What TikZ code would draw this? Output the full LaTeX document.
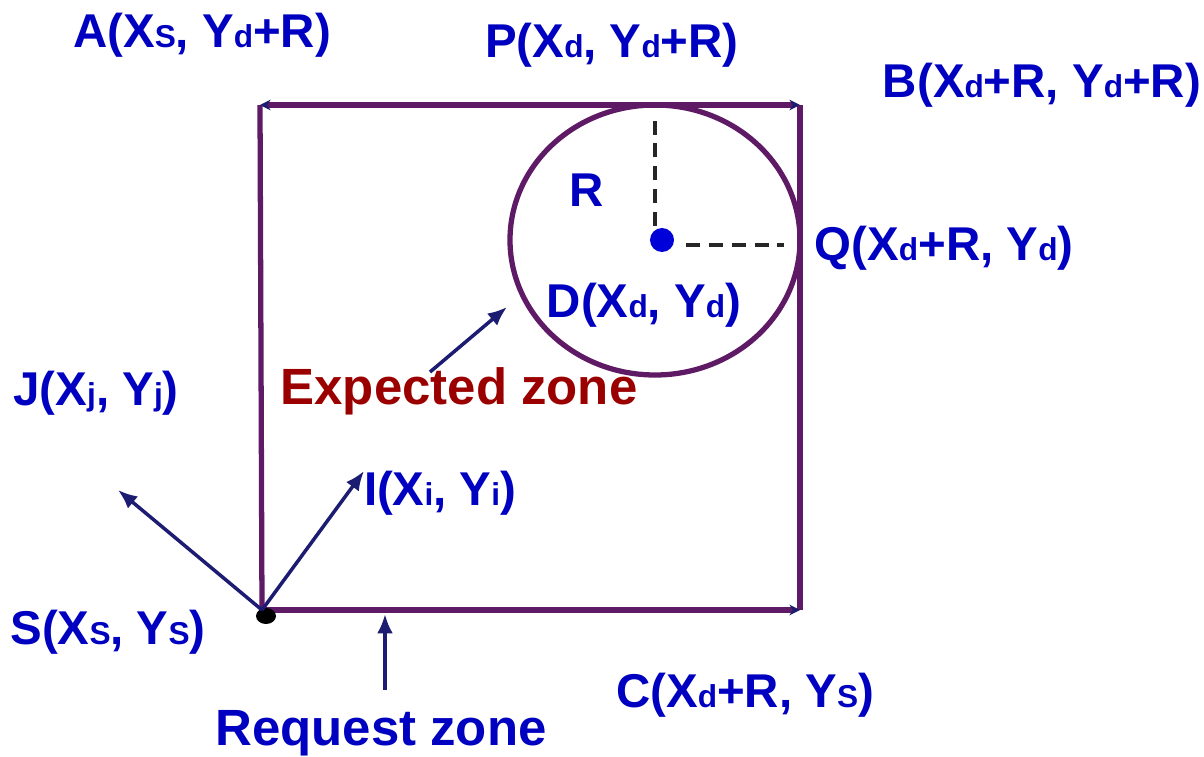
\documentclass[tikz,border=0pt]{standalone}
\usepackage{fontspec}
\setmainfont{Liberation Sans}
\usetikzlibrary{arrows.meta}
\definecolor{zoneLine}{HTML}{5E1A64}
\definecolor{ptBlue}{HTML}{0000C0}
\definecolor{arrNavy}{HTML}{1C1C72}
\definecolor{expRed}{HTML}{9B0000}
\newcommand{\lowtxt}[1]{{\fontsize{18}{18}\selectfont #1}}% small index letter

\begin{document}
\begin{tikzpicture}[x=0.02cm, y=-0.02cm,
    lbl/.style={font=\fontsize{27}{30}\selectfont\bfseries, text=ptBlue, inner sep=0pt},
    zonelbl/.style={lbl, font=\fontsize{29}{32}\selectfont\bfseries},
    ptr/.style={draw=arrNavy, line width=2pt, -{Latex[length=11pt,width=9pt]}},
    edge/.style={draw=zoneLine, line width=3pt},
    rad/.style={black!85, line width=2.2pt, dash pattern=on 8pt off 5pt}]
  \useasboundingbox (0,0) rectangle (1204,757);

  % corners of the request zone
  \coordinate (A) at (260,105);
  \coordinate (B) at (800,105);
  \coordinate (C) at (800,610);
  \coordinate (S) at (262,610);
  \coordinate (D) at (662,240);
  \coordinate (Dc) at (655,240);

  % request zone and expected zone
  \draw[edge] (B) -- (C);
  \draw[edge] (A) -- (S);
  \draw[edge, {Stealth[length=6pt,width=6pt,color=arrNavy]}-{Stealth[length=6pt,width=6pt,color=arrNavy]}] (A) -- (B);
  \draw[edge, -{Stealth[length=6pt,width=6pt,color=arrNavy]}] (S) -- (C);
  \draw[edge] (Dc) ellipse[x radius=145, y radius=135];

  % radius marks
  \fill[blue!85!black] (D) circle[radius=12];
  \coordinate (Dtop) at (655,120);
  \coordinate (Dup) at (655,226);
  \coordinate (Drt) at (686,245);
  \coordinate (Dend) at (784,245);
  \draw[rad] (Dup) -- (Dtop);
  \draw[rad] (Drt) -- (Dend);
  \fill[black] (266,616) ellipse[x radius=10, y radius=8];

  % labels
  \node[lbl] (lA) at (202,35) {A(X\lowtxt{S}, Y\lowtxt{d}+R)};
  \node[lbl] (lP) at (612,45) {P(X\lowtxt{d}, Y\lowtxt{d}+R)};
  \node[lbl] (lB) at (1042,85) {B(X\lowtxt{d}+R, Y\lowtxt{d}+R)};
  \node[lbl] (lR) at (587,190) {R};
  \node[lbl] (lQ) at (944,248) {Q(X\lowtxt{d}+R, Y\lowtxt{d})};
  \node[lbl] (lD) at (644,305) {D(X\lowtxt{d}, Y\lowtxt{d})};
  \node[lbl] (lJ) at (96,393) {J(X\lowtxt{j}, Y\lowtxt{j})};
  \node[zonelbl, text=expRed] (lExp) at (459,391) {Expected zone};
  \node[lbl] (lI) at (440,493) {I(X\lowtxt{i}, Y\lowtxt{i})};
  \node[lbl] (lS) at (108,632) {S(X\lowtxt{S}, Y\lowtxt{S})};
  \node[lbl] (lC) at (745,695) {C(X\lowtxt{d}+R, Y\lowtxt{S})};
  \node[zonelbl] (lReq) at (381,733) {Request zone};

  % pointers
  \coordinate (Jtip) at (118,490);
  \coordinate (Itip) at (364,471);
  \coordinate (ReqFoot) at (385,690);
  \coordinate (ReqTip) at (385,614);
  \coordinate (ExpFoot) at (430,372);
  \coordinate (ExpTip) at (507,307);
  \draw[ptr] (S) -- (Jtip);
  \draw[ptr] (S) -- (Itip);
  \draw[ptr] (ReqFoot) -- (ReqTip);
  \draw[ptr] (ExpFoot) -- (ExpTip);
\end{tikzpicture}
\end{document}
